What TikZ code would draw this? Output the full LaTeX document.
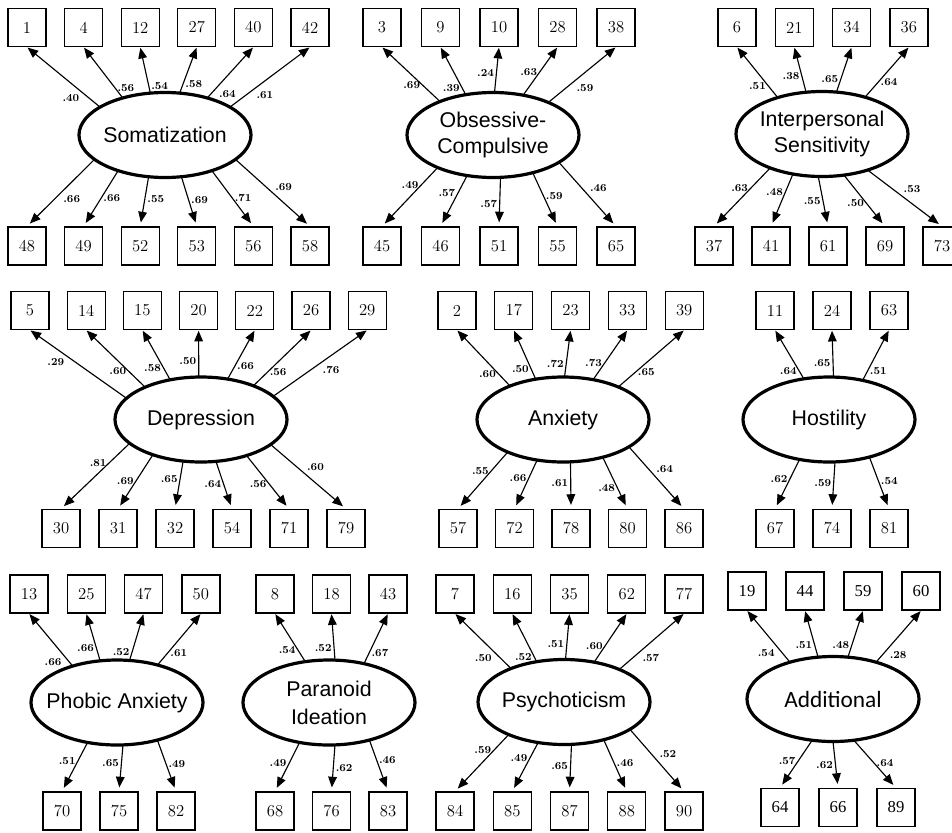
\documentclass[tikz,border=0pt]{standalone}
\usepackage{fontspec}
\newfontfamily\latentfont{Liberation Sans}
\newfontfamily\calibrifont{Carlito}
\newfontfamily\timesfont{Liberation Serif}
\usepackage{tikz}
\usetikzlibrary{
  arrows.meta,
  calc,
  shapes.geometric
}
\tikzset{
  itembox/.style={
    draw,
    line width=0.9pt,
    minimum size=28.5pt,
    inner sep=0pt,
    font=\fontsize{12.5}{12.5}\selectfont
  },
  addbox/.style={itembox,font=\fontsize{12.5}{12.5}\selectfont\timesfont},
  latent/.style={
    ellipse,
    draw,
    line width=2.4pt,
    minimum width=129pt,
    minimum height=63.75pt,
    inner sep=0pt
  },
  latlabel/.style={font=\fontsize{16}{20}\selectfont\latentfont,align=center},
  addlabel/.style={font=\fontsize{17.5}{20}\selectfont\calibrifont},
  weight/.style={font=\fontsize{8}{8}\selectfont\bfseries,inner sep=1.5pt},
  uparrow/.style={-{Triangle[length=8pt,width=6.5pt]},line width=0.85pt,shorten >=0.5pt},
  downarrow/.style={-{Triangle[length=8pt,width=6.5pt]},line width=0.85pt,shorten >=3pt},
}

\begin{document}
\begin{tikzpicture}[x=0.75pt,y=-0.75pt]
  \useasboundingbox (0,0) rectangle (952,832);

  % Somatization
  \node[latent,label={[latlabel]center:Somatization}] (som) at (165,135) {};
  \foreach \n [count=\i] in {1,4,12,27,40,42}
    \node[itembox] (som-t\i) at ({27+56.6*(\i-1)},27.5) {\n};
  \foreach \n [count=\i] in {48,49,52,53,56,58}
    \node[itembox] (som-b\i) at ({27+56.6*(\i-1)},246) {\n};
  \foreach \w/\p/\s [count=\i] in {.40/.25/north east,.56/.2/west,.54/.16/west,.58/.19/west,.64/.2/north west,.61/.3/north west}
    \draw[uparrow] ($(som.center)+({86*cos(139-19.6*(\i-1))},{-42.5*sin(139-19.6*(\i-1))})$)
      -- node[weight,pos=\p,anchor=\s] (som-wt\i) {\w} (som-t\i.south);
  \foreach \w/\p/\s [count=\i] in {.66/.5/north west,.66/.5/west,.55/.44/west,.69/.47/west,.71/.49/west,.69/.5/south west}
    \draw[downarrow] ($(som.center)+({86*cos(215+22*(\i-1))},{-42.5*sin(215+22*(\i-1))})$)
      -- node[weight,pos=\p,anchor=\s] (som-wb\i) {\w} (som-b\i.north);

  % Obsessive-Compulsive
  \node[latent,label={[latlabel]center:Obsessive-\\Compulsive}] (obs) at (493,135) {};
  \foreach \n [count=\i] in {3,9,10,28,38}
    \node[itembox] (obs-t\i) at ({382+58.5*(\i-1)},27.5) {\n};
  \foreach \n [count=\i] in {45,46,51,55,65}
    \node[itembox] (obs-b\i) at ({382+58.5*(\i-1)},246) {\n};
  \foreach \w/\p/\s [count=\i] in {.69/.3/east,.39/.14/east,.24/.42/east,.63/.48/east,.59/.38/north west}
    \draw[uparrow] ($(obs.center)+({86*cos(128-19.5*(\i-1))},{-42.5*sin(128-19.5*(\i-1))})$)
      -- node[weight,pos=\p,anchor=\s] (obs-wt\i) {\w} (obs-t\i.south);
  \foreach \w/\p/\s [count=\i] in {.49/.3/east,.57/.35/east,.57/.55/east,.59/.43/west,.46/.5/south west}
    \draw[downarrow] ($(obs.center)+({86*cos(230+22.5*(\i-1))},{-42.5*sin(230+22.5*(\i-1))})$)
      -- node[weight,pos=\p,anchor=\s] (obs-wb\i) {\w} (obs-b\i.north);

  % Interpersonal Sensitivity
  \node[latent,label={[latlabel]center:Interpersonal\\Sensitivity}] (ips) at (822,134) {};
  \foreach \n [count=\i] in {6,21,34,36}
    \node[itembox] (ips-t\i) at ({737+57.3*(\i-1)},27.5) {\n};
  \foreach \n [count=\i] in {37,41,61,69,73}
    \node[itembox] (ips-b\i) at ({714+57*(\i-1)},246) {\n};
  \foreach \w/\p/\s [count=\i] in {.51/.23/east,.38/.35/east,.65/.28/east,.64/.3/west}
    \draw[uparrow] ($(ips.center)+({86*cos(121-20.33*(\i-1))},{-42.5*sin(121-20.33*(\i-1))})$)
      -- node[weight,pos=\p,anchor=\s] (ips-wt\i) {\w} (ips-t\i.south);
  \foreach \w/\p/\s [count=\i] in {.63/.35/east,.48/.34/east,.55/.5/east,.50/.55/east,.53/.45/south west}
    \draw[downarrow] ($(ips.center)+({86*cos(233+17.25*(\i-1))},{-42.5*sin(233+17.25*(\i-1))})$)
      -- node[weight,pos=\p,anchor=\s] (ips-wb\i) {\w} (ips-b\i.north);

  % Depression
  \node[latent,label={[latlabel]center:Depression}] (dep) at (201,419.5) {};
  \foreach \n [count=\i] in {5,14,15,20,22,26,29}
    \node[itembox] (dep-t\i) at ({30+56.2*(\i-1)},310.5) {\n};
  \foreach \n [count=\i] in {30,31,32,54,71,79}
    \node[itembox] (dep-b\i) at ({61+57*(\i-1)},528.5) {\n};
  \foreach \w/\p/\s [count=\i] in {.29/.62/north east,.60/.28/east,.58/.24/east,.50/.35/east,.66/.26/west,.56/.24/west,.76/.5/north west}
    \draw[uparrow] ($(dep.center)+({86*cos(150-19.5*(\i-1))},{-42.5*sin(150-19.5*(\i-1))})$)
      -- node[weight,pos=\p,anchor=\s] (dep-wt\i) {\w} (dep-t\i.south);
  \foreach \w/\p/\s [count=\i] in {.81/.3/east,.69/.48/east,.65/.37/east,.64/.48/east,.56/.53/east,.60/.45/south west}
    \draw[downarrow] ($(dep.center)+({86*cos(214+22*(\i-1))},{-42.5*sin(214+22*(\i-1))})$)
      -- node[weight,pos=\p,anchor=\s] (dep-wb\i) {\w} (dep-b\i.north);

  % Anxiety
  \node[latent,label={[latlabel]center:Anxiety}] (anx) at (563,419.5) {};
  \foreach \n [count=\i] in {2,17,23,33,39}
    \node[itembox] (anx-t\i) at ({457+56.8*(\i-1)},310.5) {\n};
  \foreach \n [count=\i] in {57,72,78,80,86}
    \node[itembox] (anx-b\i) at ({458+56.5*(\i-1)},528.5) {\n};
  \foreach \w/\p/\s [count=\i] in {.60/.22/east,.50/.2/east,.72/.27/east,.73/.33/east,.65/.26/west}
    \draw[uparrow] ($(anx.center)+({86*cos(128-19.5*(\i-1))},{-42.5*sin(128-19.5*(\i-1))})$)
      -- node[weight,pos=\p,anchor=\s] (anx-wt\i) {\w} (anx-t\i.south);
  \foreach \w/\p/\s [count=\i] in {.55/.33/east,.66/.36/east,.61/.45/east,.48/.6/east,.64/.45/south west}
    \draw[downarrow] ($(anx.center)+({86*cos(230+22.5*(\i-1))},{-42.5*sin(230+22.5*(\i-1))})$)
      -- node[weight,pos=\p,anchor=\s] (anx-wb\i) {\w} (anx-b\i.north);

  % Hostility
  \node[latent,label={[latlabel]center:Hostility}] (hos) at (829,419.5) {};
  \foreach \n [count=\i] in {11,24,63}
    \node[itembox] (hos-t\i) at ({775+57*(\i-1)},310.5) {\n};
  \foreach \n [count=\i] in {67,74,81}
    \node[itembox] (hos-b\i) at ({775+57*(\i-1)},528.5) {\n};
  \foreach \w/\p/\s [count=\i] in {.64/.16/east,.65/.3/east,.51/.18/west}
    \draw[uparrow] ($(hos.center)+({86*cos(107-20*(\i-1))},{-42.5*sin(107-20*(\i-1))})$)
      -- node[weight,pos=\p,anchor=\s] (hos-wt\i) {\w} (hos-t\i.south);
  \foreach \w/\p/\s [count=\i] in {.62/.39/east,.59/.44/east,.54/.46/west}
    \draw[downarrow] ($(hos.center)+({86*cos(250+24*(\i-1))},{-42.5*sin(250+24*(\i-1))})$)
      -- node[weight,pos=\p,anchor=\s] (hos-wb\i) {\w} (hos-b\i.north);

  % Phobic Anxiety
  \node[latent,label={[latlabel]center:Phobic Anxiety}] (pho) at (117,702.5) {};
  \foreach \n [count=\i] in {13,25,47,50}
    \node[itembox] (pho-t\i) at ({29+57.3*(\i-1)},594) {\n};
  \foreach \n [count=\i] in {70,75,82}
    \node[itembox] (pho-b\i) at ({62+57*(\i-1)},811) {\n};
  \foreach \w/\p/\s [count=\i] in {.66/.2/north east,.66/.27/east,.52/.18/east,.61/.24/west}
    \draw[uparrow] ($(pho.center)+({86*cos(121-19.7*(\i-1))},{-42.5*sin(121-19.7*(\i-1))})$)
      -- node[weight,pos=\p,anchor=\s] (pho-wt\i) {\w} (pho-t\i.south);
  \foreach \w/\p/\s [count=\i] in {.51/.37/east,.65/.4/east,.49/.46/west}
    \draw[downarrow] ($(pho.center)+({86*cos(250+24*(\i-1))},{-42.5*sin(250+24*(\i-1))})$)
      -- node[weight,pos=\p,anchor=\s] (pho-wb\i) {\w} (pho-b\i.north);

  % Paranoid Ideation
  \node[latent,label={[latlabel,font=\fontsize{16}{21}\selectfont\latentfont]center:Paranoid\\Ideation}] (par) at (329,702.5) {};
  \foreach \n [count=\i] in {8,18,43}
    \node[itembox] (par-t\i) at ({275+56.5*(\i-1)},594) {\n};
  \foreach \n [count=\i] in {68,76,83}
    \node[itembox] (par-b\i) at ({275+56.5*(\i-1)},811) {\n};
  \foreach \w/\p/\s [count=\i] in {.54/.24/east,.52/.25/east,.67/.21/west}
    \draw[uparrow] ($(par.center)+({86*cos(106-20*(\i-1))},{-42.5*sin(106-20*(\i-1))})$)
      -- node[weight,pos=\p,anchor=\s] (par-wt\i) {\w} (par-t\i.south);
  \foreach \w/\p/\s [count=\i] in {.49/.43/east,.62/.5/west,.46/.38/west}
    \draw[downarrow] ($(par.center)+({86*cos(250+24*(\i-1))},{-42.5*sin(250+24*(\i-1))})$)
      -- node[weight,pos=\p,anchor=\s] (par-wb\i) {\w} (par-b\i.north);

  % Psychoticism
  \node[latent,label={[latlabel]center:Psychoticism}] (psy) at (564,702) {};
  \foreach \n [count=\i] in {7,16,35,62,77}
    \node[itembox] (psy-t\i) at ({455+57.25*(\i-1)},594) {\n};
  \foreach \n [count=\i] in {84,85,87,88,90}
    \node[itembox] (psy-b\i) at ({455+57.25*(\i-1)},811) {\n};
  \foreach \w/\p/\s [count=\i] in {.50/.3/north east,.52/.1/east,.51/.33/east,.60/.34/east,.57/.32/north west}
    \draw[uparrow] ($(psy.center)+({86*cos(128-19.5*(\i-1))},{-42.5*sin(128-19.5*(\i-1))})$)
      -- node[weight,pos=\p,anchor=\s] (psy-wt\i) {\w} (psy-t\i.south);
  \foreach \w/\p/\s [count=\i] in {.59/.28/east,.49/.32/east,.65/.47/east,.46/.45/west,.52/.5/south west}
    \draw[downarrow] ($(psy.center)+({86*cos(230+22.5*(\i-1))},{-42.5*sin(230+22.5*(\i-1))})$)
      -- node[weight,pos=\p,anchor=\s] (psy-wb\i) {\w} (psy-b\i.north);

  % Additional
  \node[latent,label={[addlabel]center:Additional}] (add) at (833,699) {};
  \foreach \n [count=\i] in {19,44,59,60}
    \node[addbox] (add-t\i) at ({747+58*(\i-1)},591) {\n};
  \foreach \n [count=\i] in {64,66,89}
    \node[addbox] (add-b\i) at ({780+58*(\i-1)},807.5) {\n};
  \foreach \w/\p/\s [count=\i] in {.54/.3/north east,.51/.25/east,.48/.25/east,.28/.25/north west}
    \draw[uparrow] ($(add.center)+({86*cos(120-20*(\i-1))},{-42.5*sin(120-20*(\i-1))})$)
      -- node[weight,pos=\p,anchor=\s] (add-wt\i) {\w} (add-t\i.south);
  \foreach \w/\p/\s [count=\i] in {.57/.44/east,.62/.5/east,.64/.48/west}
    \draw[downarrow] ($(add.center)+({86*cos(256+14*(\i-1))},{-42.5*sin(256+14*(\i-1))})$)
      -- node[weight,pos=\p,anchor=\s] (add-wb\i) {\w} (add-b\i.north);
\end{tikzpicture}
\end{document}
